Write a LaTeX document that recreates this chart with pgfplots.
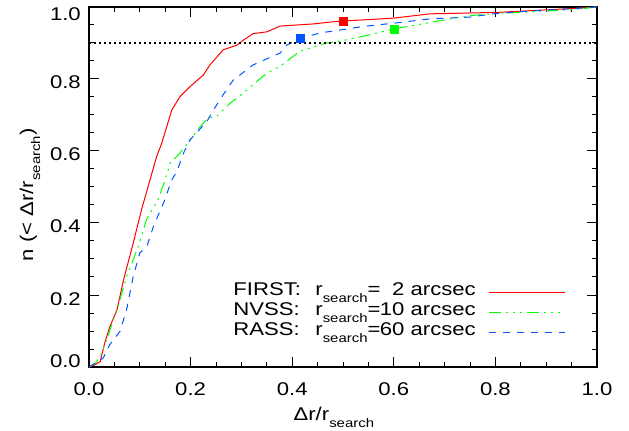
\documentclass[border=0pt]{standalone}
\usepackage{pgfplots}
\pgfplotsset{compat=1.18}
\usepackage{fontspec}
\setmainfont{Liberation Sans}[FakeStretch=1.2]
\newcommand\sub[1]{\raisebox{-7bp}{\fontsize{12.5}{12.5}\selectfont #1}}
\definecolor{cred}{RGB}{255,0,0}
\definecolor{cgreen}{RGB}{0,255,0}
\definecolor{cblue}{RGB}{0,85,255}
\begin{document}
\fontsize{18.5}{20}\selectfont
\begin{tikzpicture}
\begin{axis}[
  width=508bp, height=360bp, scale only axis,
  xmin=0, xmax=1, ymin=0, ymax=1,
  xtick={0,0.2,0.4,0.6,0.8,1}, xticklabels={0.0,0.2,0.4,0.6,0.8,1.0},
  ytick={0,0.2,0.4,0.6,0.8,1},
  yticklabels={\raisebox{9.8bp}{0.0},0.2,0.4,0.6,0.8,\raisebox{-3.2bp}{1.0}},
  minor tick num=3,
  tick align=inside,
  major tick length=10bp, minor tick length=5bp,
  axis line style={line width=1.5bp},
  every tick/.style={black, line width=1bp},
  xticklabel style={anchor=north, inner sep=0pt, yshift=-15bp},
  yticklabel style={anchor=base east, inner sep=0pt, xshift=-8bp, yshift=-10bp},
  xlabel={Δr/r\sub{search}},
  ylabel={n (< Δr/r\sub{search})},
  xlabel style={at={(axis description cs:0.482,-0.148)}, anchor=base, inner sep=0pt},
  ylabel style={at={(axis description cs:-0.110,0.478)}, anchor=base, inner sep=0pt},
  legend style={at={(axis description cs:0.939,0.236)}, anchor=north east, draw=none, fill=none, inner sep=0pt, column sep=13bp, row sep=0pt, nodes={inner sep=0pt, text height=13bp, text depth=7bp}},
  legend cell align=right, legend plot pos=right,
  legend image code/.code={\draw[#1] (0bp,0bp) -- (76bp,0bp);},
]
\addplot[cred, line width=1bp] coordinates {
(0,0) (0.01,0.005) (0.022,0.015) (0.031,0.067) (0.041,0.112) (0.055,0.158) (0.068,0.242) (0.087,0.344) (0.104,0.44) (0.120,0.519) (0.133,0.584) (0.143,0.621) (0.163,0.714) (0.179,0.751) (0.199,0.779) (0.225,0.811) (0.238,0.839) (0.258,0.871) (0.264,0.881) (0.291,0.894) (0.304,0.908) (0.323,0.926) (0.350,0.931) (0.376,0.947) (0.442,0.953) (0.474,0.958) (0.5,0.961) (0.599,0.969) (0.671,0.981) (0.803,0.985) (0.901,0.992) (0.98,0.998) (1,1)};
\addlegendentry{\makebox[82bp][l]{FIRST:}r\sub{search}=\makebox[24bp][r]{2} arcsec}
\addplot[cgreen, line width=1bp, dash pattern=on 12bp off 5bp on 2bp off 5bp on 2bp off 5bp on 2bp off 5bp] coordinates {
(0,0) (0.002,0.002) (0.012,0.01) (0.022,0.029) (0.035,0.076) (0.048,0.131) (0.061,0.187) (0.074,0.251) (0.087,0.298) (0.097,0.335) (0.113,0.409) (0.136,0.465) (0.150,0.52) (0.160,0.567) (0.179,0.594) (0.199,0.631) (0.219,0.668) (0.235,0.692) (0.251,0.696) (0.278,0.733) (0.304,0.761) (0.330,0.793) (0.350,0.816) (0.376,0.835) (0.389,0.849) (0.415,0.877) (0.435,0.886) (0.468,0.9) (0.494,0.905) (0.553,0.923) (0.6,0.939) (0.671,0.957) (0.75,0.976) (0.803,0.982) (0.868,0.987) (0.947,0.992) (1,1)};
\addlegendentry{\makebox[82bp][l]{NVSS:}r\sub{search}=\makebox[24bp][r]{10} arcsec}
\addplot[cblue, line width=1bp, dash pattern=on 7bp off 7bp] coordinates {
(0,0) (0.008,0.007) (0.028,0.025) (0.041,0.062) (0.061,0.099) (0.074,0.159) (0.087,0.251) (0.1,0.317) (0.114,0.335) (0.127,0.391) (0.148,0.46) (0.163,0.52) (0.173,0.543) (0.186,0.594) (0.199,0.631) (0.232,0.682) (0.245,0.714) (0.264,0.756) (0.284,0.797) (0.297,0.811) (0.323,0.839) (0.35,0.856) (0.376,0.872) (0.389,0.894) (0.415,0.912) (0.455,0.928) (0.494,0.936) (0.54,0.946) (0.606,0.956) (0.671,0.967) (0.75,0.972) (0.796,0.981) (0.848,0.987) (0.933,0.994) (1,1)};
\addlegendentry{\makebox[82bp][l]{RASS:}r\sub{search}=\makebox[24bp][r]{60} arcsec}
\addplot[forget plot, black, line width=1.5bp, dash pattern=on 2bp off 3bp] coordinates {(0,0.9) (1,0.9)};
\addplot[forget plot, only marks, mark=square*, mark size=4bp, cred] coordinates {(0.5,0.961)};
\addplot[forget plot, only marks, mark=square*, mark size=4bp, cblue] coordinates {(0.415,0.912)};
\addplot[forget plot, only marks, mark=square*, mark size=4bp, cgreen] coordinates {(0.6,0.939)};
\end{axis}
\path ([xshift=-89bp,yshift=-64bp]current axis.south west) rectangle ([xshift=32bp,yshift=7bp]current axis.north east);
\end{tikzpicture}
\end{document}
